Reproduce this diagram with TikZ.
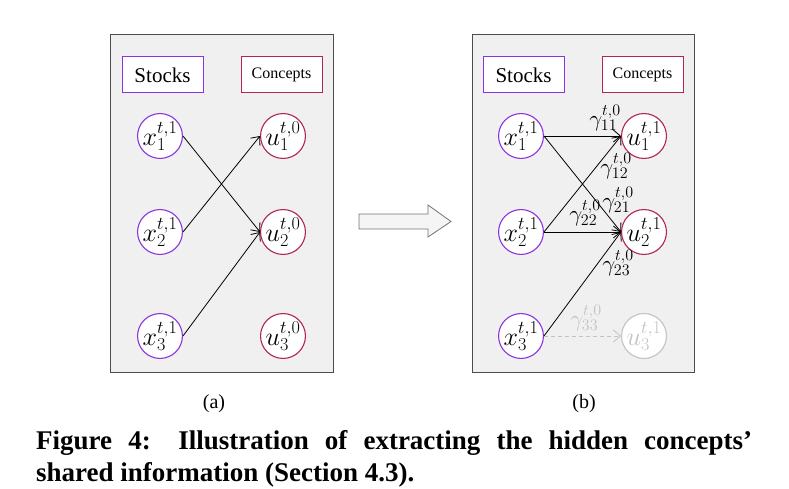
\documentclass[tikz,border=0pt]{standalone}
\usepackage{fix-cm}
\usepackage{fontspec}
\setmainfont{Liberation Serif}
\usetikzlibrary{arrows.meta,positioning}
\definecolor{stockc}{RGB}{140,50,225}
\definecolor{conceptc}{RGB}{180,35,85}
\definecolor{panelbg}{RGB}{240,240,240}
\definecolor{fadec}{RGB}{195,195,195}
\tikzset{
  panel/.style={draw=black!70,fill=panelbg,line width=1pt},
  tagbox/.style={draw,fill=white,line width=1pt,minimum width=81pt,minimum height=36pt,inner sep=0pt},
  stocknode/.style={circle,draw=stockc,fill=white,line width=1.1pt,minimum size=44pt,inner sep=0pt,font=\fontsize{26}{28}\selectfont},
  conceptnode/.style={stocknode,draw=conceptc},
  link/.style={-{Straight Barb[length=7pt,width=12pt]},line width=.8pt},
  wlabel/.style={inner sep=0pt,font=\fontsize{23}{25}\selectfont},
}
\begin{document}
\begin{tikzpicture}[x=1pt,y=-1pt]
\useasboundingbox (0,0) rectangle (789,489);
\draw[panel] (110,35) rectangle (333,372);
\draw[panel] (472,35) rectangle (694,372);
\node[tagbox,draw=stockc,font=\fontsize{21}{23}\selectfont] (stocksa) at (162.5,75) {Stocks};
\node[tagbox,draw=conceptc,font=\fontsize{16}{18}\selectfont] (conceptsa) at (281.5,75) {Concepts};
\node[tagbox,draw=stockc,font=\fontsize{21}{23}\selectfont] (stocksb) at (523.5,75) {Stocks};
\node[tagbox,draw=conceptc,font=\fontsize{16}{18}\selectfont] (conceptsb) at (642.5,75) {Concepts};
\node[stocknode] (xa1) at (160,136) {$x_1^{t,1}$};
\node[stocknode] (xa2) at (160,232) {$x_2^{t,1}$};
\node[stocknode] (xa3) at (160,336) {$x_3^{t,1}$};
\node[conceptnode] (ua1) at (283,136) {$u_1^{t,0}$};
\node[conceptnode] (ua2) at (283,232) {$u_2^{t,0}$};
\node[conceptnode] (ua3) at (283,336) {$u_3^{t,0}$};
\draw[link] (xa1.east)--(ua2.west);
\draw[link] (xa2.east)--(ua1.west);
\draw[link] (xa3.east)--(ua2.west);
\draw[draw=black!55,fill=black!4,line width=.8pt] (359,214)--(428,214)--(428,205)--(451,221.5)--(428,237)--(428,229)--(359,229)--cycle;
\node[stocknode] (xb1) at (521,136) {$x_1^{t,1}$};
\node[stocknode] (xb2) at (521,232) {$x_2^{t,1}$};
\node[stocknode] (xb3) at (521,336) {$x_3^{t,1}$};
\node[conceptnode] (ub1) at (644,136) {$u_1^{t,1}$};
\node[conceptnode] (ub2) at (644,232) {$u_2^{t,1}$};
\node[conceptnode,draw=fadec,text=fadec] (ub3) at (644,336) {$u_3^{t,1}$};
\draw[link] (xb1.east)--(ub1.west);
\draw[link] (xb1.east)--(ub2.west);
\draw[link] (xb2.east)--(ub1.west);
\draw[link] (xb2.east)--(ub2.west);
\draw[link] (xb3.east)--(ub2.west);
\draw[link,fadec,dash pattern=on 4pt off 3pt] (xb3.east)--(ub3.west);
\node[wlabel] (g11) at (605,118) {$\gamma_{11}^{t,0}$};
\node[wlabel] (g12) at (616,166) {$\gamma_{12}^{t,0}$};
\node[wlabel] (g21) at (618,200) {$\gamma_{21}^{t,0}$};
\node[wlabel] (g22) at (585,213) {$\gamma_{22}^{t,0}$};
\node[wlabel] (g23) at (618,263) {$\gamma_{23}^{t,0}$};
\node[wlabel,text=fadec] (g33) at (586,318) {$\gamma_{33}^{t,0}$};
\node[font=\fontsize{20}{22}\selectfont] (capa) at (214,404) {(a)};
\node[font=\fontsize{20}{22}\selectfont] (capb) at (584,404) {(b)};
\node[anchor=base west,inner sep=0pt,font=\fontsize{27}{32}\bfseries] (fig1) at (36,449) {\makebox[716pt][s]{Figure 4: Illustration of extracting the hidden concepts'}};
\node[anchor=base west,inner sep=0pt,font=\fontsize{27}{32}\bfseries] (fig2) at (36,481) {shared information (Section 4.3).};
\end{tikzpicture}
\end{document}
